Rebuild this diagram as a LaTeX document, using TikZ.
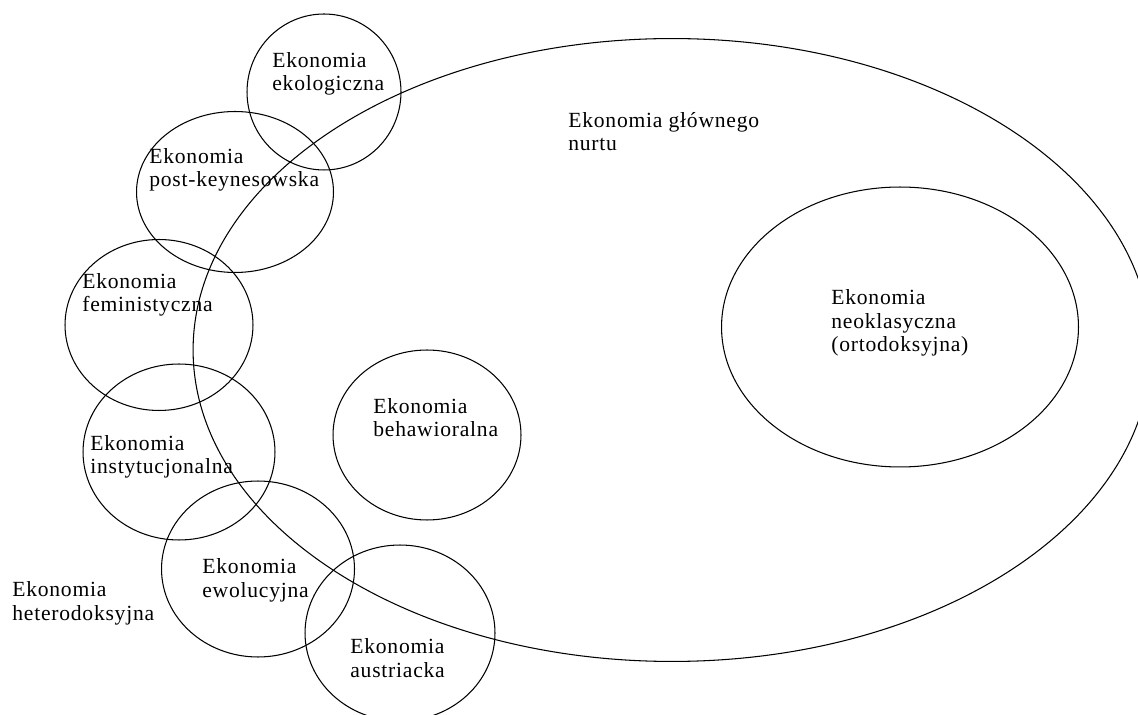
\documentclass[tikz,border=0pt]{standalone}
\usepackage{fontspec}
\setmainfont{Liberation Serif}[LetterSpace=3.5]
\usetikzlibrary{shapes.geometric}

\begin{document}
\begin{tikzpicture}[x=0.02cm, y=-0.02cm,
    krag/.style={draw, ellipse, inner sep=0pt, line width=0.6pt},
    napis/.style={align=left, inner sep=0pt, anchor=base west, font=\fontsize{12.3}{13.6}\selectfont}
]
\useasboundingbox (0,0) rectangle (1138,715);

% wielka elipsa i elipsa w srodku
\node[krag, minimum width=19.16cm, minimum height=12.46cm] (glowny) at (672,350) {};
\node[krag, minimum width=7.14cm, minimum height=5.6cm] (neokl) at (900,327) {};

% kola heterodoksyjne
\node[krag, minimum width=3.08cm, minimum height=3.12cm] (ekolog) at (324,92) {};
\node[krag, minimum width=3.94cm, minimum height=3.22cm] (postk) at (235,192) {};
\node[krag, minimum width=3.76cm, minimum height=3.42cm] (femin) at (159,325) {};
\node[krag, minimum width=3.84cm, minimum height=3.52cm] (instyt) at (179,452) {};
\node[krag, minimum width=3.86cm, minimum height=3.52cm] (ewol) at (258,569) {};
\node[krag, minimum width=3.8cm, minimum height=3.52cm] (austr) at (400,633) {};
\node[krag, minimum width=3.76cm, minimum height=3.4cm] (behaw) at (427,435) {};

% napisy (punkt = linia bazowa ostatniego wiersza)
\node[napis] (t-glowny) at (568,151) {Ekonomia głównego\\nurtu};
\node[napis] (t-neokl) at (831,352) {Ekonomia\\neoklasyczna\\(ortodoksyjna)};
\node[napis] (t-ekolog) at (272,91) {Ekonomia\\ekologiczna};
\node[napis] (t-postk) at (149,187) {Ekonomia\\post-keynesowska};
\node[napis] (t-femin) at (82,312) {Ekonomia\\feministyczna};
\node[napis] (t-instyt) at (90,474) {Ekonomia\\instytucjonalna};
\node[napis] (t-ewol) at (202,597) {Ekonomia\\ewolucyjna};
\node[napis] (t-austr) at (350,677) {Ekonomia\\austriacka};
\node[napis] (t-behaw) at (373,437) {Ekonomia\\behawioralna};
\node[napis] (t-hetero) at (12,620) {Ekonomia\\heterodoksyjna};
\end{tikzpicture}
\end{document}
